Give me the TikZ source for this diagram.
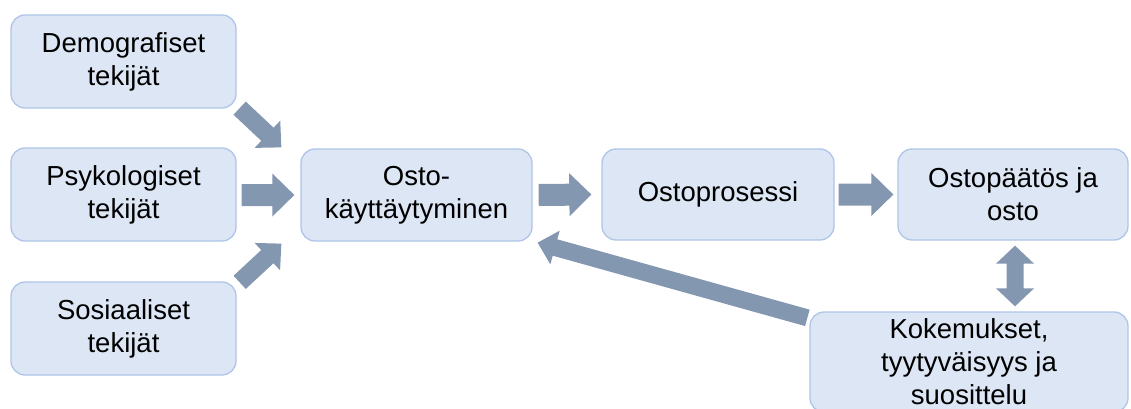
\documentclass[tikz,border=0pt]{standalone}
\usepackage{fontspec}
\setmainfont{Liberation Sans}
\usetikzlibrary{calc}
\definecolor{boxfill}{HTML}{DCE6F4}
\definecolor{boxline}{HTML}{AFC5E8}
\definecolor{arrowfill}{HTML}{8497B0}
\newcommand{\barrow}[5]{%
  \fill[arrowfill] let \p1=(#1), \p2=(#2),
    \n1={atan2(\y2-\y1,\x2-\x1)},
    \n2={veclen(\x2-\x1,\y2-\y1)-#5} in
    ($(\p1)+(\n1+90:#3)$) -- ($(\p1)+(\n1:\n2)+(\n1+90:#3)$) --
    ($(\p1)+(\n1:\n2)+(\n1+90:#4)$) -- (\p2) --
    ($(\p1)+(\n1:\n2)+(\n1-90:#4)$) -- ($(\p1)+(\n1:\n2)+(\n1-90:#3)$) --
    ($(\p1)+(\n1-90:#3)$) -- cycle;}
\begin{document}
\begin{tikzpicture}[x=1pt,y=-1pt,
  box/.style={draw=boxline, fill=boxfill, line width=1.3pt, rounded corners=14pt,
    align=center, inner sep=0pt, font=\fontsize{27.5}{33}\selectfont,
    minimum height=93pt},
]
\useasboundingbox (0,0) rectangle (1131,409);
\node[box, minimum width=225pt] (demo) at (123.5,61.5) {Demografiset\\tekijät};
\node[box, minimum width=225pt] (psyk) at (123.5,194.5) {Psykologiset\\tekijät};
\node[box, minimum width=225pt] (sosi) at (123.5,328.5) {Sosiaaliset\\tekijät};
\node[box, minimum width=231pt, minimum height=92pt] (osto) at (416.5,195) {Osto-\\käyttäytyminen};
\node[box, minimum width=232pt, minimum height=91pt] (proc) at (718,194.5) {Ostoprosessi};
\node[box, minimum width=230pt, minimum height=91pt] (paat) at (1013,194.5) {Ostopäätös ja\\osto};
\node[box, minimum width=318pt, minimum height=100pt] (koke) at (969,362) {Kokemukset,\\tyytyväisyys ja\\suosittelu};

\coordinate (a1) at ($(demo.south east)+(3,-0.5)$);
\coordinate (a2) at ($(osto.north west)+(-19,-1)$);
\coordinate (b1) at ($(psyk.east)+(5,0.5)$);
\coordinate (b2) at ($(osto.west)+(-6,0)$);
\coordinate (c1) at ($(sosi.north east)+(3,1)$);
\coordinate (c2) at ($(osto.south west)+(-19,2)$);
\coordinate (d1) at ($(osto.east)+(6,0)$);
\coordinate (d2) at ($(proc.west)+(-10,0)$);
\coordinate (e1) at ($(proc.east)+(4,0)$);
\coordinate (e2) at ($(paat.west)+(-4,0)$);
\coordinate (f1) at ($(koke.north west)+(-2,6.5)$);
\coordinate (f2) at ($(osto.south east)+(5,1)$);
\coordinate (g0) at ($(paat.south)!0.5!(paat.south |- koke.north)+(2,0)$);
\coordinate (g1) at ($(paat.south)+(2,5)$);
\coordinate (g2) at ($(paat.south |- koke.north)+(2,-5)$);

\barrow{a1}{a2}{9pt}{18.7pt}{19pt}
\barrow{b1}{b2}{11pt}{21.5pt}{22pt}
\barrow{c1}{c2}{9pt}{18.7pt}{19pt}
\barrow{d1}{d2}{11pt}{21.5pt}{22pt}
\barrow{e1}{e2}{11pt}{21.5pt}{22pt}
\barrow{f1}{f2}{8.5pt}{17.5pt}{18pt}
\barrow{g0}{g1}{8.5pt}{19pt}{18pt}
\barrow{g0}{g2}{8.5pt}{19pt}{18pt}
\end{tikzpicture}
\end{document}
